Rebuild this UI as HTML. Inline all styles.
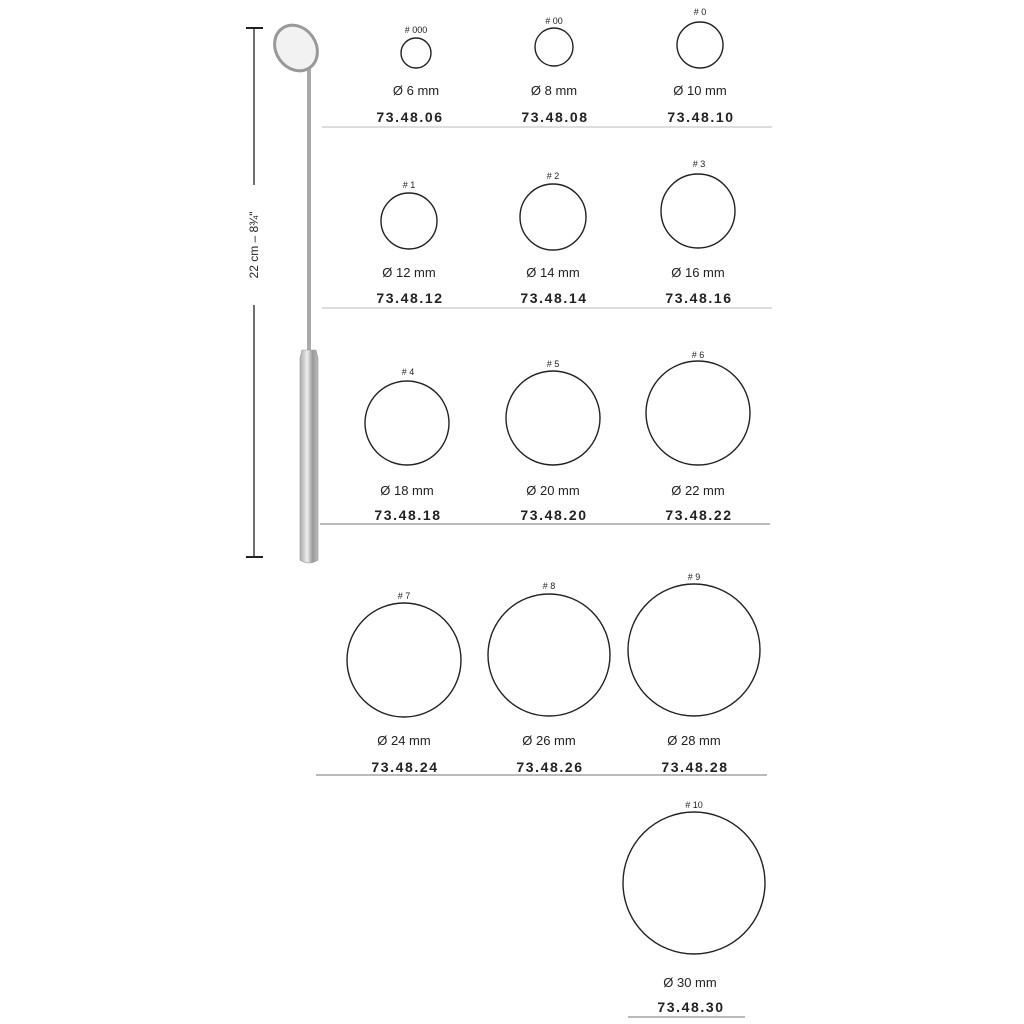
<!DOCTYPE html>
<html><head><meta charset="utf-8"><style>
body{margin:0;background:#fff;}
svg{display:block;font-family:"Liberation Sans",sans-serif;}
.h{font-size:9px;text-anchor:middle;fill:#222}
.m{font-size:13px;text-anchor:middle;fill:#222}
.c{font-size:14px;font-weight:bold;text-anchor:middle;fill:#222;letter-spacing:1.6px}
circle.r{fill:none;stroke:#222;stroke-width:1.4}
</style></head><body>
<svg width="1024" height="1024" viewBox="0 0 1024 1024">
<defs>
<linearGradient id="g" x1="0" x2="1"><stop offset="0" stop-color="#aaa"/><stop offset=".4" stop-color="#eee"/><stop offset=".7" stop-color="#999"/><stop offset="1" stop-color="#bbb"/></linearGradient>
</defs>
<line x1="254" y1="28" x2="254" y2="557" stroke="#222" stroke-width="1.3"/>
<line x1="246" y1="28" x2="263" y2="28" stroke="#222" stroke-width="2"/>
<line x1="246" y1="557" x2="263" y2="557" stroke="#222" stroke-width="2"/>
<rect x="246" y="185" width="16" height="120" fill="#fff"/>
<text transform="translate(258,245) rotate(-90)" font-size="12" text-anchor="middle" fill="#222">22 cm – 8¾"</text>
<rect x="307" y="68" width="4" height="282" fill="#aaa"/>
<path d="M302 350 L316 350 L318 358 L318 560 Q309 566 300 560 L300 358 Z" fill="url(#g)" stroke="#999" stroke-width=".6"/>
<ellipse cx="296" cy="48" rx="20" ry="24" transform="rotate(-35 296 48)" fill="#f2f2f2" stroke="#999" stroke-width="3"/>
<g stroke="#bbb">
<line x1="322" y1="127" x2="772" y2="127" stroke-width="1"/>
<line x1="322" y1="308" x2="772" y2="308" stroke-width="1"/>
<line x1="320" y1="524" x2="770" y2="524" stroke-width="2"/>
<line x1="316" y1="775" x2="767" y2="775" stroke-width="2"/>
<line x1="628" y1="1017" x2="745" y2="1017" stroke-width="2"/>
</g>
<text class="h" x="416" y="33"># 000</text><circle class="r" cx="416" cy="53" r="15"/><text class="m" x="416" y="95">Ø 6 mm</text><text class="c" x="410" y="122">73.48.06</text>
<text class="h" x="554" y="24"># 00</text><circle class="r" cx="554" cy="47" r="19"/><text class="m" x="554" y="95">Ø 8 mm</text><text class="c" x="555" y="122">73.48.08</text>
<text class="h" x="700" y="15"># 0</text><circle class="r" cx="700" cy="45" r="23"/><text class="m" x="700" y="95">Ø 10 mm</text><text class="c" x="701" y="122">73.48.10</text>
<text class="h" x="409" y="188"># 1</text><circle class="r" cx="409" cy="221" r="28"/><text class="m" x="409" y="277">Ø 12 mm</text><text class="c" x="410" y="303">73.48.12</text>
<text class="h" x="553" y="179"># 2</text><circle class="r" cx="553" cy="217" r="33"/><text class="m" x="553" y="277">Ø 14 mm</text><text class="c" x="554" y="303">73.48.14</text>
<text class="h" x="699" y="167"># 3</text><circle class="r" cx="698" cy="211" r="37"/><text class="m" x="698" y="277">Ø 16 mm</text><text class="c" x="699" y="303">73.48.16</text>
<text class="h" x="408" y="375"># 4</text><circle class="r" cx="407" cy="423" r="42"/><text class="m" x="407" y="495">Ø 18 mm</text><text class="c" x="408" y="520">73.48.18</text>
<text class="h" x="553" y="367"># 5</text><circle class="r" cx="553" cy="418" r="47"/><text class="m" x="553" y="495">Ø 20 mm</text><text class="c" x="554" y="520">73.48.20</text>
<text class="h" x="698" y="358"># 6</text><circle class="r" cx="698" cy="413" r="52"/><text class="m" x="698" y="495">Ø 22 mm</text><text class="c" x="699" y="520">73.48.22</text>
<text class="h" x="404" y="599"># 7</text><circle class="r" cx="404" cy="660" r="57"/><text class="m" x="404" y="745">Ø 24 mm</text><text class="c" x="405" y="772">73.48.24</text>
<text class="h" x="549" y="589"># 8</text><circle class="r" cx="549" cy="655" r="61"/><text class="m" x="549" y="745">Ø 26 mm</text><text class="c" x="550" y="772">73.48.26</text>
<text class="h" x="694" y="580"># 9</text><circle class="r" cx="694" cy="650" r="66"/><text class="m" x="694" y="745">Ø 28 mm</text><text class="c" x="695" y="772">73.48.28</text>
<text class="h" x="694" y="808"># 10</text><circle class="r" cx="694" cy="883" r="71"/><text class="m" x="690" y="987">Ø 30 mm</text><text class="c" x="691" y="1012">73.48.30</text>
</svg>
</body></html>
